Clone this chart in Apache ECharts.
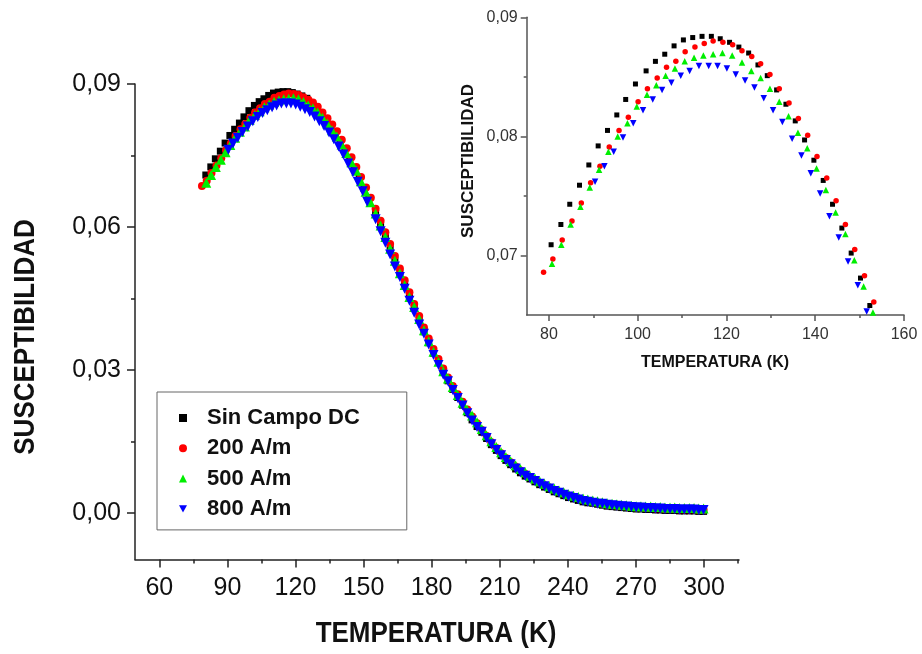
<!DOCTYPE html>
<html>
<head>
<meta charset="utf-8">
<script src="https://cdn.jsdelivr.net/npm/echarts@6.0.0/dist/echarts.min.js"></script>
<style>
  html, body { margin: 0; padding: 0; background: #ffffff; }
  #chart { width: 922px; height: 654px; }
</style>
</head>
<body>
<div id="chart"></div>
<script>
// Series names (legend)
const seriesNames = ['Sin Campo DC', '200 A/m', '500 A/m', '800 A/m'];

// Low-temperature measurements (K), one list per field condition
const tempsSinCampoBajas = [80.5, 82.7, 84.7, 86.9, 89.0, 91.1, 93.2, 95.3, 97.3, 99.5, 101.9, 104.0, 106.1, 108.2, 110.3, 112.4, 114.5, 116.6, 118.6, 120.7, 122.8, 125.0, 127.1, 129.2, 131.3, 133.4, 135.5, 137.6, 139.7, 141.8, 143.9, 146.0, 148.1, 150.2, 152.3];
const temps200Bajas = [78.8, 80.9, 83.0, 85.2, 87.3, 89.4, 91.5, 93.6, 95.8, 97.9, 100.1, 102.2, 104.4, 106.5, 108.6, 110.7, 112.9, 115.0, 117.0, 119.2, 121.4, 123.5, 125.7, 127.7, 129.8, 131.9, 134.1, 136.2, 138.3, 140.4, 142.6, 144.7, 146.8, 148.9, 151.1, 153.2];
const temps500Bajas = [80.7, 82.8, 84.9, 87.1, 89.2, 91.3, 93.4, 95.5, 97.7, 99.8, 102.1, 104.2, 106.3, 108.4, 110.6, 112.7, 114.8, 117.0, 119.1, 121.3, 123.5, 125.6, 127.7, 129.8, 131.9, 134.0, 136.1, 138.2, 140.3, 142.4, 144.6, 146.8, 148.8, 150.9, 153.0];
const temps800Bajas = [90.4, 92.5, 94.6, 96.7, 99.0, 101.2, 103.4, 105.5, 107.6, 109.7, 111.7, 113.8, 116.0, 118.0, 120.1, 122.1, 124.2, 126.3, 128.4, 130.5, 132.6, 134.8, 136.9, 139.0, 141.1, 143.2, 145.3, 147.4, 149.6, 151.6];

// High-temperature measurements (K), shared by all field conditions
const tempsAltas = [155.3, 157.5, 159.6, 161.7, 163.8, 166.0, 168.1, 170.2, 172.3, 174.5, 176.6, 178.7, 180.8, 183.0, 185.1, 187.2, 189.3, 191.5, 193.6, 195.7, 197.8, 200.0, 202.1, 204.2, 206.3, 208.5, 210.6, 212.7, 214.8, 217.0, 219.1, 221.2, 223.3, 225.5, 227.6, 229.7, 231.8, 234.0, 236.1, 238.2, 240.3, 242.5, 244.6, 246.7, 248.8, 251.0, 253.1, 255.2, 257.3, 259.5, 261.6, 263.7, 265.8, 268.0, 270.1, 272.2, 274.3, 276.5, 278.6, 280.7, 282.8, 285.0, 287.1, 289.2, 291.3, 293.5, 295.6, 297.7, 299.8];

// AC susceptibility values (low-temperature part followed by high-temperature part)
const susSinCampo = [0.0709, 0.0726, 0.0743, 0.0759, 0.0776, 0.0792, 0.0805, 0.0818, 0.0831, 0.0844, 0.0855, 0.0863, 0.0869, 0.0876, 0.0881, 0.0883, 0.0884, 0.0884, 0.0882, 0.0879, 0.0875, 0.0870, 0.0860, 0.0851, 0.0839, 0.0827, 0.0813, 0.0797, 0.0780, 0.0763, 0.0743, 0.0723, 0.0702, 0.0681, 0.0658,
  0.0628, 0.0603, 0.0579, 0.0554, 0.0529, 0.0504, 0.0479, 0.0454, 0.0429, 0.0404, 0.0380, 0.0357, 0.0335, 0.0316, 0.0296, 0.0277, 0.0259, 0.0242, 0.0226, 0.0210, 0.0195, 0.0181, 0.0169, 0.0156, 0.0143, 0.0131, 0.0120, 0.0110, 0.0101, 0.0092, 0.0084, 0.0077, 0.0071, 0.0065, 0.0059, 0.0054, 0.0049, 0.0044, 0.0040, 0.0036, 0.0032, 0.0029, 0.0026, 0.0023, 0.0021, 0.0020, 0.0018, 0.0016, 0.0014, 0.0013, 0.0012, 0.0011, 0.0010, 0.0009, 0.0008, 0.0008, 0.0007, 0.0007, 0.0006, 0.0006, 0.0005, 0.0005, 0.0005, 0.0004, 0.0004, 0.0004, 0.0004, 0.0003, 0.0003];
const sus200 = [0.0686, 0.0697, 0.0713, 0.0729, 0.0744, 0.0761, 0.0775, 0.0791, 0.0805, 0.0816, 0.0829, 0.0840, 0.0849, 0.0858, 0.0863, 0.0871, 0.0875, 0.0878, 0.0880, 0.0879, 0.0877, 0.0872, 0.0867, 0.0861, 0.0852, 0.0840, 0.0828, 0.0815, 0.0801, 0.0783, 0.0765, 0.0746, 0.0726, 0.0705, 0.0683, 0.0661,
  0.0638, 0.0613, 0.0589, 0.0564, 0.0539, 0.0513, 0.0488, 0.0463, 0.0438, 0.0413, 0.0389, 0.0366, 0.0344, 0.0323, 0.0303, 0.0284, 0.0266, 0.0249, 0.0233, 0.0217, 0.0202, 0.0188, 0.0174, 0.0161, 0.0148, 0.0136, 0.0125, 0.0115, 0.0106, 0.0097, 0.0089, 0.0082, 0.0075, 0.0069, 0.0063, 0.0058, 0.0053, 0.0048, 0.0044, 0.0040, 0.0036, 0.0033, 0.0030, 0.0027, 0.0025, 0.0023, 0.0021, 0.0019, 0.0017, 0.0016, 0.0015, 0.0014, 0.0013, 0.0012, 0.0011, 0.0011, 0.0010, 0.0010, 0.0009, 0.0009, 0.0008, 0.0008, 0.0008, 0.0007, 0.0007, 0.0007, 0.0007, 0.0006, 0.0006];
const sus500 = [0.0693, 0.0709, 0.0726, 0.0741, 0.0757, 0.0772, 0.0787, 0.0800, 0.0811, 0.0825, 0.0835, 0.0843, 0.0851, 0.0857, 0.0863, 0.0866, 0.0868, 0.0869, 0.0870, 0.0868, 0.0862, 0.0855, 0.0849, 0.0840, 0.0829, 0.0817, 0.0803, 0.0790, 0.0773, 0.0755, 0.0736, 0.0718, 0.0696, 0.0674, 0.0652,
  0.0628, 0.0603, 0.0579, 0.0554, 0.0529, 0.0503, 0.0478, 0.0453, 0.0432, 0.0407, 0.0383, 0.0360, 0.0338, 0.0317, 0.0297, 0.0282, 0.0264, 0.0247, 0.0231, 0.0215, 0.0204, 0.0190, 0.0176, 0.0163, 0.0150, 0.0138, 0.0127, 0.0117, 0.0108, 0.0100, 0.0092, 0.0085, 0.0078, 0.0072, 0.0066, 0.0061, 0.0056, 0.0051, 0.0047, 0.0043, 0.0039, 0.0036, 0.0033, 0.0030, 0.0028, 0.0026, 0.0024, 0.0022, 0.0020, 0.0019, 0.0018, 0.0017, 0.0016, 0.0015, 0.0014, 0.0014, 0.0013, 0.0013, 0.0012, 0.0012, 0.0011, 0.0011, 0.0011, 0.0010, 0.0010, 0.0010, 0.0010, 0.0009, 0.0009];
const sus800 = [0.0762, 0.0775, 0.0787, 0.0799, 0.0811, 0.0822, 0.0831, 0.0839, 0.0845, 0.0851, 0.0855, 0.0859, 0.0859, 0.0859, 0.0857, 0.0852, 0.0847, 0.0841, 0.0832, 0.0822, 0.0812, 0.0798, 0.0784, 0.0769, 0.0752, 0.0733, 0.0715, 0.0695, 0.0675, 0.0653,
  0.0616, 0.0591, 0.0567, 0.0542, 0.0517, 0.0495, 0.0470, 0.0445, 0.0420, 0.0395, 0.0376, 0.0353, 0.0331, 0.0310, 0.0290, 0.0276, 0.0258, 0.0241, 0.0225, 0.0209, 0.0194, 0.0180, 0.0170, 0.0157, 0.0144, 0.0132, 0.0121, 0.0111, 0.0102, 0.0093, 0.0085, 0.0078, 0.0073, 0.0067, 0.0061, 0.0056, 0.0051, 0.0046, 0.0042, 0.0038, 0.0034, 0.0031, 0.0028, 0.0025, 0.0023, 0.0021, 0.0019, 0.0019, 0.0017, 0.0016, 0.0015, 0.0014, 0.0013, 0.0012, 0.0011, 0.0011, 0.0010, 0.0010, 0.0009, 0.0009, 0.0008, 0.0008, 0.0008, 0.0007, 0.0007, 0.0007, 0.0007, 0.0006, 0.0006];

// Tick values
const mainXTicks = [60, 90, 120, 150, 180, 210, 240, 270, 300];
const mainXMinor = [75, 105, 135, 165, 195, 225, 255, 285, 315];
const mainYTicks = [0, 0.03, 0.06, 0.09];
const mainYMinor = [0.015, 0.045, 0.075];
const insetXTicks = [80, 100, 120, 140, 160];
const insetXMinor = [90, 110, 130, 150];
const insetYTicks = [0.07, 0.08, 0.09];
const insetYMinor = [0.075, 0.085];

const FONT = '"Liberation Sans", Arial, Helvetica, sans-serif';
const colors = ['#000000', '#ff0000', '#00ee00', '#0000ff'];
const symbols = ['rect', 'circle', 'triangle', 'triangle'];
const rotations = [0, 0, 0, 180];
const mainSizes = [7, 8, 10, 10];
const insetSizes = [5, 5.5, 6.5, 6.5];
// Legend icons; the last one is a downward-pointing triangle
const legendIcons = ['rect', 'circle', 'triangle', 'path://M0,0 L10,0 L5,9 Z'];

const tempsPorSerie = [
  tempsSinCampoBajas.concat(tempsAltas),
  temps200Bajas.concat(tempsAltas),
  temps500Bajas.concat(tempsAltas),
  temps800Bajas.concat(tempsAltas)
];
const valoresPorSerie = [susSinCampo, sus200, sus500, sus800];

function pares(ts, vs) {
  const n = Math.min(ts.length, vs.length);
  const out = [];
  for (let i = 0; i < n; i++) out.push([ts[i], vs[i]]);
  return out;
}

const comma = (v, d) => v.toFixed(d).replace('.', ',');

function majorX(gridIndex, min, max, ticks, fontSize, margin, tickLen, lineColor, labelColor) {
  return {
    type: 'value', gridIndex, min, max, position: 'bottom',
    splitLine: { show: false },
    axisLine: { show: true, onZero: false, lineStyle: { color: lineColor, width: 1.5 } },
    axisTick: { show: true, customValues: ticks, length: tickLen, lineStyle: { color: lineColor, width: 1.5 } },
    axisLabel: { show: true, customValues: ticks, fontSize, fontFamily: FONT, color: labelColor, margin }
  };
}
function minorAxis(kind, gridIndex, min, max, ticks, tickLen, lineColor) {
  return {
    type: 'value', gridIndex, min, max, position: kind === 'x' ? 'bottom' : 'left',
    splitLine: { show: false },
    axisLine: { show: false, onZero: false },
    axisTick: { show: true, customValues: ticks, length: tickLen, lineStyle: { color: lineColor, width: 1.5 } },
    axisLabel: { show: false }
  };
}
function majorY(gridIndex, min, max, ticks, fontSize, margin, tickLen, lineColor, labelColor) {
  return {
    type: 'value', gridIndex, min, max, position: 'left',
    splitLine: { show: false },
    axisLine: { show: true, onZero: false, lineStyle: { color: lineColor, width: 1.5 } },
    axisTick: { show: true, customValues: ticks, length: tickLen, lineStyle: { color: lineColor, width: 1.5 } },
    axisLabel: { show: true, customValues: ticks, fontSize, fontFamily: FONT, color: labelColor, margin,
      formatter: v => comma(v, 2) }
  };
}

const series = [];
for (let k = 0; k < 4; k++) {
  series.push({
    name: seriesNames[k], type: 'scatter', xAxisIndex: 0, yAxisIndex: 0,
    data: pares(tempsPorSerie[k], valoresPorSerie[k]),
    symbol: symbols[k], symbolRotate: rotations[k], symbolSize: mainSizes[k],
    itemStyle: { color: colors[k], opacity: 1 }, z: 2 + k, silent: true
  });
}
for (let k = 0; k < 4; k++) {
  series.push({
    name: seriesNames[k], type: 'scatter', xAxisIndex: 2, yAxisIndex: 2,
    data: pares(tempsPorSerie[k], valoresPorSerie[k]),
    symbol: symbols[k], symbolRotate: rotations[k], symbolSize: insetSizes[k],
    itemStyle: { color: colors[k], opacity: 1 }, z: 2 + k, silent: true, clip: true
  });
}

const titleFont = (size) => 'bold ' + size + 'px ' + FONT;

const option = {
  backgroundColor: '#ffffff',
  animation: false,
  grid: [
    { left: 135, top: 84, width: 604, height: 475.5, containLabel: false },
    { left: 526.7, top: 17.3, width: 377.3, height: 297.7, containLabel: false }
  ],
  xAxis: [
    majorX(0, 49.3, 315.4, mainXTicks, 25, 16, 8, '#222', '#111'),
    minorAxis('x', 0, 49.3, 315.4, mainXMinor, 4, '#222'),
    majorX(1, 75, 160, insetXTicks, 16, 12, 6, '#555', '#333'),
    minorAxis('x', 1, 75, 160, insetXMinor, 3, '#555')
  ],
  yAxis: [
    majorY(0, -0.0098, 0.09, mainYTicks, 25, 14, 8, '#222', '#111'),
    minorAxis('y', 0, -0.0098, 0.09, mainYMinor, 4, '#222'),
    majorY(1, 0.065, 0.09, insetYTicks, 16, 9, 6, '#555', '#333'),
    minorAxis('y', 1, 0.065, 0.09, insetYMinor, 3, '#555')
  ],
  legend: {
    show: true,
    orient: 'vertical',
    left: 157, top: 392,
    padding: [15, 47, 10, 22],
    itemGap: 8.3,
    itemWidth: 8, itemHeight: 8,
    borderColor: '#666', borderWidth: 1,
    backgroundColor: '#ffffff',
    selectedMode: false,
    data: seriesNames.map((name, k) => ({ name, icon: legendIcons[k] })),
    textStyle: { fontSize: 22, fontWeight: 'bold', fontFamily: FONT, color: '#111', lineHeight: 22, padding: [0, 0, 0, 15] }
  },
  graphic: [
    { type: 'text', x: 436, y: 634, scaleY: 1.12, style: { text: 'TEMPERATURA (K)', font: titleFont(26), fill: '#111', align: 'center', verticalAlign: 'middle' } },
    { type: 'text', x: 26, y: 337, rotation: Math.PI / 2, scaleY: 1.12, style: { text: 'SUSCEPTIBILIDAD', font: titleFont(26), fill: '#111', align: 'center', verticalAlign: 'middle' } },
    { type: 'text', x: 715, y: 363, style: { text: 'TEMPERATURA (K)', font: titleFont(16), fill: '#111', align: 'center', verticalAlign: 'middle' } },
    { type: 'text', x: 468, y: 161, rotation: Math.PI / 2, style: { text: 'SUSCEPTIBILIDAD', font: titleFont(17), fill: '#111', align: 'center', verticalAlign: 'middle' } }
  ],
  series
};

const chart = echarts.init(document.getElementById('chart'), null, { renderer: 'canvas' });
chart.setOption(option);
</script>
</body>
</html>
